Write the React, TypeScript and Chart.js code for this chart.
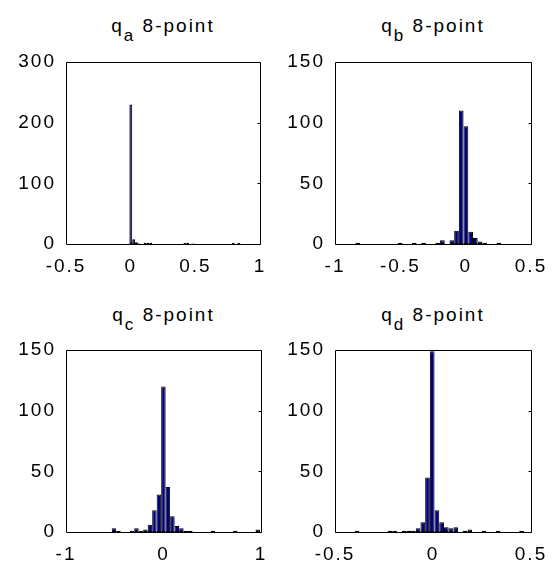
import React, { useEffect, useRef } from "react";
import { Chart, registerables } from "chart.js";

Chart.register(...registerables);

// ---------- data (histogram counts) ----------
// q_a : bins start at -0.01, width 0.022
const qaFirstEdge = -0.01;
const qaBinWidth = 0.022;
const qaCounts = [
  230, 8, 3, 1, 0, 2, 2, 2, 0, 0,
  0, 0, 0, 0, 0, 0, 0, 0, 0, 2,
  2, 0, 1, 0, 0, 0, 0, 0, 0, 0,
  0, 0, 0, 0, 0, 0, 2, 0, 2, 0,
];
const qaXTicks = [-0.5, 0, 0.5, 1];
const qaYTicks = [0, 100, 200, 300];

// q_b : bins start at -0.844, width 0.036
const qbFirstEdge = -0.844;
const qbBinWidth = 0.036;
const qbCounts = [
  1, 0, 0, 0, 0, 0, 0, 0, 0, 1,
  0, 0, 1, 0, 1, 0, 0, 1, 3, 0,
  3, 11, 110, 97, 10, 5, 2, 1, 0, 0,
  1,
];
const qbXTicks = [-1, -0.5, 0, 0.5];
const qbYTicks = [0, 50, 100, 150];

// q_c : bins start at -0.531, width 0.0461
const qcFirstEdge = -0.531;
const qcBinWidth = 0.0461;
const qcCounts = [
  3, 1, 0, 0, 1, 3, 1, 2, 6, 18,
  31, 120, 37, 13, 5, 3, 1, 1, 0, 0,
  0, 0, 1, 0, 0, 0, 0, 1, 0, 0,
  0, 0, 2,
];
const qcXTicks = [-1, 0, 1];
const qcYTicks = [0, 50, 100, 150];

// q_d : bins start at -0.40, width 0.024
const qdFirstEdge = -0.4;
const qdBinWidth = 0.024;
const qdCounts = [
  1, 0, 0, 0, 0, 0, 0, 1, 1, 0,
  1, 1, 1, 3, 8, 45, 149, 18, 8, 4,
  3, 4, 0, 1, 2, 0, 0, 1, 0, 0,
  1, 0, 0, 0, 0, 1,
];
const qdXTicks = [-0.5, 0, 0.5];
const qdYTicks = [0, 50, 100, 150];

// ---------- styling ----------
const FONT = '"Liberation Sans", Arial, Helvetica, sans-serif';
const FONT_SIZE = 19;
const SPACING = "2px";

const boxPlugin = {
  id: "matlabBox",
  beforeDraw(chart: any) {
    (chart.ctx as any).letterSpacing = SPACING;
  },
  afterDatasetsDraw(chart: any) {
    const { ctx, chartArea: a, scales } = chart;
    ctx.save();
    ctx.strokeStyle = "#000";
    ctx.lineWidth = 1;
    const l = Math.round(a.left) + 0.5;
    const t = Math.round(a.top) + 0.5;
    const r = Math.round(a.right) + 0.5;
    const b = Math.round(a.bottom) + 0.5;
    ctx.beginPath();
    ctx.rect(l, t, r - l, b - t);
    ctx.stroke();
    const ys = scales.y;
    ys.ticks.forEach((tk: any) => {
      const py = Math.round(ys.getPixelForValue(tk.value)) + 0.5;
      ctx.beginPath();
      ctx.moveTo(r, py);
      ctx.lineTo(r - 3, py);
      ctx.stroke();
    });
    ctx.restore();
  },
};

type PanelProps = {
  counts: number[];
  firstEdge: number;
  binWidth: number;
  xMin: number;
  xMax: number;
  xTicks: number[];
  yMax: number;
  yTicks: number[];
  left: number;
  top: number;
  width: number;
  height: number;
  padRight: number;
  yAxisWidth: number;
  xAxisHeight: number;
};

function Panel(p: PanelProps) {
  const ref = useRef<HTMLCanvasElement>(null);
  useEffect(() => {
    if (!ref.current) return;
    const points = p.counts.map((c, i) => ({
      x: p.firstEdge + p.binWidth * (i + 0.5),
      y: c,
    }));
    const tickFont = { family: FONT, size: FONT_SIZE, lineHeight: 1 };
    const chart = new Chart(ref.current, {
      type: "bar",
      data: {
        datasets: [
          {
            data: points as any,
            backgroundColor: "#000080",
            borderColor: "#000000",
            borderWidth: 1,
            borderSkipped: false,
            barPercentage: 1,
            categoryPercentage: 1,
            inflateAmount: 0,
          } as any,
        ],
      },
      options: {
        responsive: false,
        animation: false,
        events: [],
        layout: { padding: { top: 22, right: p.padRight, left: 0, bottom: 0 } },
        plugins: {
          legend: { display: false },
          tooltip: { enabled: false },
          title: { display: false },
        },
        scales: {
          x: {
            type: "linear",
            offset: false,
            min: p.xMin,
            max: p.xMax,
            grid: { display: false },
            border: { display: false },
            ticks: {
              font: tickFont,
              color: "#000",
              padding: 5,
              autoSkip: false,
              maxRotation: 0,
              minRotation: 0,
              callback: (v: any) => String(v),
            },
            afterBuildTicks: (s: any) => {
              s.ticks = p.xTicks.map((v) => ({ value: v }));
            },
            afterFit: (s: any) => {
              s.height = p.xAxisHeight;
            },
          },
          y: {
            type: "linear",
            min: 0,
            max: p.yMax,
            grid: { display: false },
            border: { display: false },
            ticks: {
              font: tickFont,
              color: "#000",
              padding: 2,
              callback: (v: any) => String(v),
            },
            afterBuildTicks: (s: any) => {
              s.ticks = p.yTicks.map((v) => ({ value: v }));
            },
            afterFit: (s: any) => {
              s.width = p.yAxisWidth;
            },
          },
        },
      } as any,
      plugins: [boxPlugin],
    });
    return () => chart.destroy();
  }, []);
  return (
    <canvas
      ref={ref}
      width={p.width}
      height={p.height}
      style={{
        position: "absolute",
        left: p.left,
        top: p.top,
        width: p.width,
        height: p.height,
      }}
    />
  );
}

function Title(props: { sub: string; left: number; width: number; top: number }) {
  return (
    <div
      style={{
        position: "absolute",
        left: props.left,
        top: props.top,
        width: props.width,
        textAlign: "center",
        fontFamily: FONT,
        fontSize: FONT_SIZE,
        lineHeight: "19px",
        letterSpacing: SPACING,
        whiteSpace: "nowrap",
        color: "#000",
      }}
    >
      q
      <span style={{ fontSize: 17, position: "relative", top: 9 }}>{props.sub}</span>{" "}
      8-point
    </div>
  );
}

export default function App() {
  return (
    <div
      style={{
        position: "fixed",
        left: 0,
        top: 0,
        width: 555,
        height: 564,
        background: "#fff",
        overflow: "hidden",
      }}
    >
      <Title sub="a" left={66} width={194} top={16} />
      <Title sub="b" left={335} width={196} top={16} />
      <Title sub="c" left={66} width={195} top={305} />
      <Title sub="d" left={335} width={196} top={305} />

      <Panel
        counts={qaCounts}
        firstEdge={qaFirstEdge}
        binWidth={qaBinWidth}
        xMin={-0.5}
        xMax={1}
        xTicks={qaXTicks}
        yMax={300}
        yTicks={qaYTicks}
        left={0}
        top={40}
        width={277}
        height={240}
        padRight={17}
        yAxisWidth={66}
        xAxisHeight={36}
      />
      <Panel
        counts={qbCounts}
        firstEdge={qbFirstEdge}
        binWidth={qbBinWidth}
        xMin={-1}
        xMax={0.5}
        xTicks={qbXTicks}
        yMax={150}
        yTicks={qbYTicks}
        left={277}
        top={40}
        width={278}
        height={240}
        padRight={24}
        yAxisWidth={58}
        xAxisHeight={36}
      />
      <Panel
        counts={qcCounts}
        firstEdge={qcFirstEdge}
        binWidth={qcBinWidth}
        xMin={-1}
        xMax={1}
        xTicks={qcXTicks}
        yMax={150}
        yTicks={qcYTicks}
        left={0}
        top={328}
        width={277}
        height={236}
        padRight={16}
        yAxisWidth={66}
        xAxisHeight={32}
      />
      <Panel
        counts={qdCounts}
        firstEdge={qdFirstEdge}
        binWidth={qdBinWidth}
        xMin={-0.5}
        xMax={0.5}
        xTicks={qdXTicks}
        yMax={150}
        yTicks={qdYTicks}
        left={277}
        top={328}
        width={278}
        height={236}
        padRight={24}
        yAxisWidth={58}
        xAxisHeight={32}
      />
    </div>
  );
}
